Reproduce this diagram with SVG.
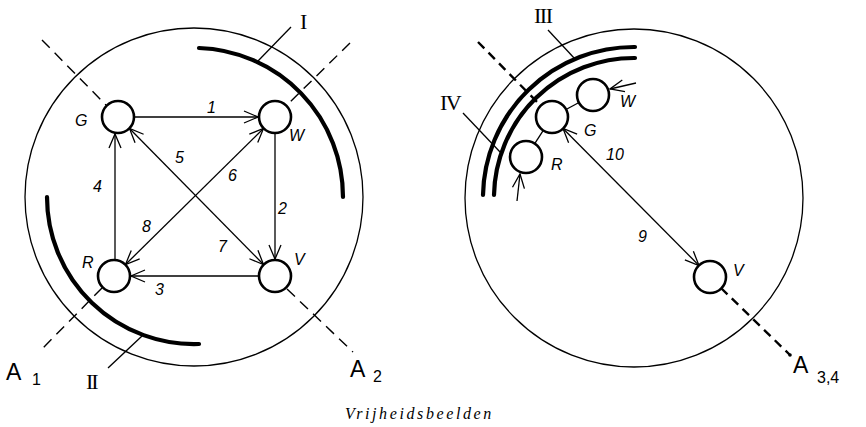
<svg xmlns="http://www.w3.org/2000/svg" width="866" height="427" viewBox="0 0 866 427">
<style>
.thin{fill:none;stroke:#000;stroke-width:1.3}
.node{fill:#fff;stroke:#000;stroke-width:2.6}
.band{fill:none;stroke:#000;stroke-width:4.2;stroke-linecap:round}
.edge{fill:none;stroke:#000;stroke-width:1.3}
.dash{fill:none;stroke:#000;stroke-width:1.4;stroke-dasharray:11 7}
.dashb{fill:none;stroke:#000;stroke-width:2.4;stroke-dasharray:9 6}
.lbl{font-family:"Liberation Sans",Arial,sans-serif;font-style:italic;font-size:16px;fill:#000}
.num{font-family:"Liberation Sans",Arial,sans-serif;font-style:italic;font-size:16px;fill:#000}
.ax{font-family:"Liberation Sans",Arial,sans-serif;font-size:23px;fill:#000}
.sub{font-family:"Liberation Sans",Arial,sans-serif;font-size:16px;fill:#000}
.rom{font-family:"Liberation Serif","Times New Roman",serif;font-size:22px;fill:#000}
.cap{font-family:"Liberation Serif","Times New Roman",serif;font-style:italic;font-size:16px;letter-spacing:2.6px;fill:#000}
</style>
<defs>
<marker id="ah" markerUnits="userSpaceOnUse" markerWidth="20" markerHeight="20" refX="0" refY="0" viewBox="-16 -10 20 20" orient="auto-start-reverse">
<path d="M-14,-6 L0,0 L-14,6" fill="none" stroke="#000" stroke-width="1.3"/>
</marker>
</defs>

<!-- Left diagram -->
<g id="left-frame">
<circle class="thin" cx="194" cy="197" r="169"/>
<path class="band" d="M199,48 A149,149 0 0 1 343,197"/>
<path class="band" d="M47,197 A147,147 0 0 0 199,344"/>
<line class="edge" x1="258" y1="61" x2="291" y2="27"/>
<line class="edge" x1="142" y1="336" x2="108" y2="368"/>
<text class="rom" x="300" y="29">I</text>
<text class="rom" x="86" y="389" letter-spacing="-2">II</text>
</g>

<g id="axes-left">
<line class="dash" x1="42" y1="40" x2="106" y2="105"/>
<line class="dash" x1="287" y1="289" x2="353" y2="352"/>
<line class="dash" x1="350" y1="43" x2="287" y2="105"/>
<line class="dash" x1="102" y1="288" x2="40" y2="351"/>
<text class="ax" x="6" y="380">A</text><text class="sub" x="32" y="385">1</text>
<text class="ax" x="350" y="377">A</text><text class="sub" x="373" y="382">2</text>
</g>

<g id="connectors-left">
<line class="edge" x1="134" y1="117" x2="258" y2="117" marker-end="url(#ah)"/>
<line class="edge" x1="275" y1="134" x2="275" y2="259" marker-end="url(#ah)"/>
<line class="edge" x1="259" y1="276" x2="131" y2="276" marker-end="url(#ah)"/>
<line class="edge" x1="115" y1="260" x2="115" y2="134" marker-end="url(#ah)"/>
<line class="edge" x1="129.5" y1="128.5" x2="263.5" y2="264.5" marker-start="url(#ah)" marker-end="url(#ah)"/>
<line class="edge" x1="263.5" y1="128.5" x2="125.5" y2="264.5" marker-start="url(#ah)" marker-end="url(#ah)"/>
<text class="num" x="207" y="113">1</text>
<text class="num" x="278" y="214">2</text>
<text class="num" x="155" y="295">3</text>
<text class="num" x="93" y="192">4</text>
<text class="num" x="175" y="163">5</text>
<text class="num" x="228" y="181">6</text>
<text class="num" x="218" y="252">7</text>
<text class="num" x="142" y="232">8</text>
</g>

<g id="node-G"><circle class="node" cx="118" cy="117" r="16"/><text class="lbl" x="75" y="126" font-size="18">G</text></g>
<g id="node-W"><circle class="node" cx="275" cy="117" r="16"/><text class="lbl" x="289" y="141" font-size="14">W</text></g>
<g id="node-R"><circle class="node" cx="114" cy="276" r="16"/><text class="lbl" x="82" y="268" font-size="14">R</text></g>
<g id="node-V"><circle class="node" cx="275" cy="276" r="16"/><text class="lbl" x="294" y="265" font-size="16">V</text></g>

<!-- Right diagram -->
<g id="right-frame">
<circle class="thin" cx="634" cy="198" r="169"/>
<path class="band" d="M635,47 A151,151 0 0 0 483,195"/>
<path class="band" d="M635,58 A140,140 0 0 0 494,195"/>
<line class="edge" x1="548" y1="30" x2="575" y2="59"/>
<line class="edge" x1="463" y1="113" x2="501" y2="153"/>
<text class="rom" x="534" y="23" font-size="17" letter-spacing="-1.5">III</text>
<text class="rom" x="440" y="110" font-size="19" letter-spacing="-1.5">IV</text>
</g>

<g id="axes-right">
<line class="dashb" x1="478" y1="42" x2="541" y2="106"/>
<line class="dashb" x1="721" y1="288" x2="790" y2="355"/>
<circle cx="790" cy="355" r="1.8" fill="#000"/>
<text class="ax" x="793" y="373">A</text><text class="sub" x="817" y="383">3,4</text>
</g>

<g id="connectors-right">
<line class="edge" x1="563" y1="128.5" x2="699" y2="265.5" marker-start="url(#ah)" marker-end="url(#ah)"/>
<line class="edge" x1="566" y1="109.5" x2="579" y2="102.5"/>
<line class="edge" x1="543.3" y1="130.4" x2="534.7" y2="143.6"/>
<line class="edge" x1="636" y1="83" x2="610" y2="89" marker-end="url(#ah)" stroke-width="1.8"/>
<line class="edge" x1="517" y1="201" x2="520" y2="174" marker-end="url(#ah)" stroke-width="1.8"/>
<text class="num" x="606" y="160">10</text>
<text class="num" x="638" y="242">9</text>
</g>

<g id="node-W2"><circle class="node" cx="593" cy="95" r="16"/><text class="lbl" x="620" y="107" font-size="15">W</text></g>
<g id="node-G2"><circle class="node" cx="552" cy="117" r="16"/><text class="lbl" x="584" y="136" font-size="18">G</text></g>
<g id="node-R2"><circle class="node" cx="526" cy="157" r="16"/><text class="lbl" x="551" y="170" font-size="15">R</text></g>
<g id="node-V2"><circle class="node" cx="710" cy="277" r="16"/><text class="lbl" x="733" y="276" font-size="16">V</text></g>

<text class="cap" x="345" y="419">Vrijheidsbeelden</text>
</svg>
